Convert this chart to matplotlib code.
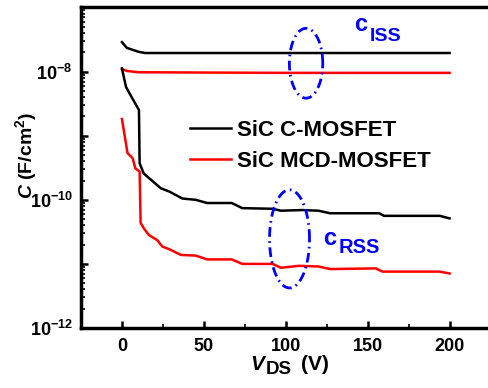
import numpy as np
import matplotlib
matplotlib.use("Agg")
import matplotlib.pyplot as plt
from matplotlib.ticker import LogLocator, FuncFormatter, MultipleLocator, NullFormatter

plt.rcParams['font.family'] = ['Liberation Sans', 'DejaVu Sans']
plt.rcParams['font.weight'] = 'bold'
plt.rcParams['mathtext.fontset'] = 'custom'
plt.rcParams['mathtext.rm'] = 'Liberation Sans:bold'
plt.rcParams['mathtext.it'] = 'Liberation Sans:bold:italic'
plt.rcParams['mathtext.bf'] = 'Liberation Sans:bold'

# Ciss curves (log10 of C in F/cm2)
ciss_v = [0, 3, 10, 14, 50, 100, 150, 200]
ciss_c_log = [-7.54, -7.63, -7.69, -7.71, -7.71, -7.71, -7.71, -7.71]
ciss_m_v = [0, 3, 10, 50, 100, 150, 200]
ciss_m_log = [-7.96, -7.99, -8.01, -8.015, -8.02, -8.02, -8.02]

# Crss curves
crss_c_v = [0, 2.5, 5.3, 10.4, 10.8, 13.3, 18.3, 23.7, 28.8, 36.9, 45, 52, 67, 73.5,
            92, 97, 110, 120, 127, 157, 160, 194, 200]
crss_c_log = [-7.95, -8.24, -8.37, -8.60, -9.43, -9.59, -9.70, -9.82, -9.87, -9.98,
              -10.00, -10.05, -10.05, -10.13, -10.14, -10.17, -10.16, -10.17, -10.21,
              -10.21, -10.25, -10.25, -10.29]
crss_m_v = [0, 3.4, 6.5, 8.2, 10.8, 11.4, 13.5, 16.5, 21.6, 24.7, 28.8, 36, 45, 52, 67,
            73.5, 92, 97, 108, 120, 127, 155, 159, 194, 200]
crss_m_log = [-8.74, -9.27, -9.35, -9.51, -9.56, -10.36, -10.45, -10.55, -10.63, -10.73,
              -10.77, -10.86, -10.87, -10.93, -10.93, -11.00, -11.00, -11.06, -11.03,
              -11.04, -11.08, -11.07, -11.12, -11.12, -11.15]

W, H = 489, 388
fig = plt.figure(figsize=(W / 100, H / 100), dpi=100)
ax = fig.add_axes([0.1656, 0.1546, 0.8375, 0.8261])

ax.plot(ciss_v, 10 ** np.array(ciss_c_log), color='black', lw=1.8)
ax.plot(ciss_m_v, 10 ** np.array(ciss_m_log), color='red', lw=1.8)
ax.plot(crss_c_v, 10 ** np.array(crss_c_log), color='black', lw=1.8, label='SiC C-MOSFET')
ax.plot(crss_m_v, 10 ** np.array(crss_m_log), color='red', lw=1.8, label='SiC MCD-MOSFET')

# dash-dot ellipses (in linear V / log C space)
t = np.linspace(0, 2 * np.pi, 200)
dashdot = (0, (3.5, 1.6, 0.6, 1.6))
ax.plot(112.4 + 10.2 * np.cos(t), 10 ** (-7.87 + 0.545 * np.sin(t)),
        color='blue', lw=2, ls=dashdot)
ax.plot(102.3 + 12.2 * np.cos(t), 10 ** (-10.61 + 0.765 * np.sin(t)),
        color='blue', lw=2, ls=dashdot)

ax.text(142, 10 ** -7.37, 'c', color='blue', fontsize=17, fontweight='bold')
ax.text(151.5, 10 ** -7.525, 'ISS', color='blue', fontsize=14, fontweight='bold')
ax.text(123, 10 ** -10.70, 'c', color='blue', fontsize=17, fontweight='bold')
ax.text(132, 10 ** -10.83, 'RSS', color='blue', fontsize=14.5, fontweight='bold')

ax.set_yscale('log')
ax.set_xlim(-25, 225)
ax.set_ylim(1e-12, 1e-7)

ax.xaxis.set_major_locator(MultipleLocator(50))
ax.xaxis.set_minor_locator(MultipleLocator(25))
ax.yaxis.set_major_locator(LogLocator(base=10, numticks=20))
ax.yaxis.set_minor_locator(LogLocator(base=10, subs=np.arange(2, 10), numticks=20))
ax.yaxis.set_minor_formatter(NullFormatter())


def ylab(v, pos):
    e = int(round(np.log10(v)))
    if e % 2 == 0 and e < -7:
        return r'$\mathregular{10^{%d}}$' % e
    return ''


ax.yaxis.set_major_formatter(FuncFormatter(ylab))
ax.tick_params(which='major', direction='in', length=5, width=1.8, labelsize=13, pad=6)
ax.tick_params(which='minor', direction='in', length=3, width=1.2)
ax.tick_params(axis='x', which='major', pad=7)
ax.tick_params(top=False, right=False, which='both')
for lab in ax.get_xticklabels() + ax.get_yticklabels():
    lab.set_fontweight('bold')
for s in ax.spines.values():
    s.set_linewidth(2.5)
ax.spines['right'].set_visible(False)

# x label: V_DS (V) with a large subscript
fig.text(250 / W, 1 - 370 / H, 'V', fontsize=15, fontstyle='italic', fontweight='bold')
fig.text(266 / W, 1 - 374 / H, 'DS', fontsize=13.5, fontweight='bold')
fig.text(301 / W, 1 - 370 / H, '(V)', fontsize=15, fontweight='bold')

fig.text(0.053, 1 - 155 / H, r'$\mathit{C}$ (F/cm$^{\mathrm{2}}$)', rotation=90,
         fontsize=14, fontweight='bold', ha='center', va='center')

ax.legend(loc='upper left', bbox_to_anchor=(0.245, 0.677), frameon=False, fontsize=16,
          handlelength=1.85, handletextpad=0.25, labelspacing=0.45, borderaxespad=0)

fig.savefig('out.png', dpi=100)
